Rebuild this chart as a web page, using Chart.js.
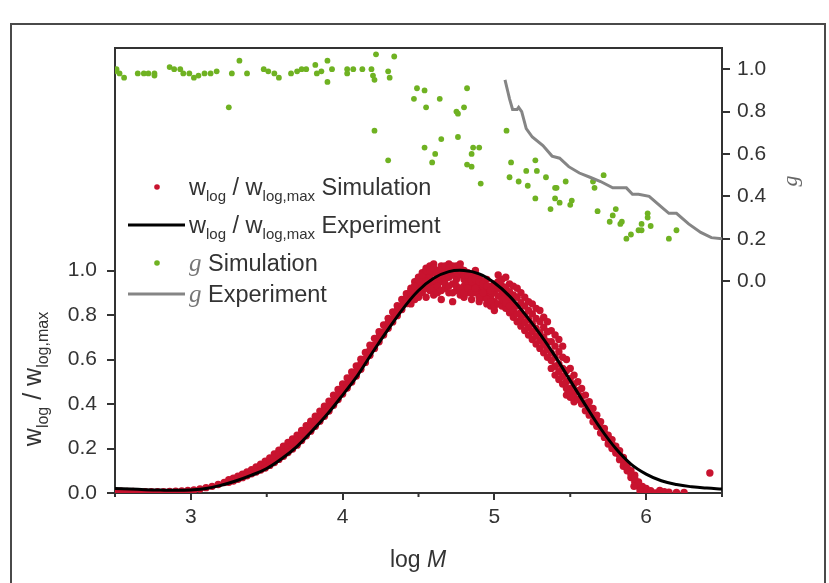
<!DOCTYPE html>
<html>
<head>
<meta charset="utf-8">
<script src="https://cdn.jsdelivr.net/npm/chart.js@4.4.1/dist/chart.umd.min.js"></script>
<style>
  html, body { margin: 0; padding: 0; background: #fff; overflow: hidden; }
  #wrap { position: relative; width: 829px; height: 583px; }
  #frame { position: absolute; left: 10px; top: 23px; width: 812px; height: 600px; border: 2px solid #4a4a4a; }
  #c { position: absolute; left: 0; top: 0; }
</style>
</head>
<body>
<div id="wrap">
  <div id="frame"></div>
  <canvas id="c" width="829" height="583"></canvas>
</div>
<script>
// x ticks (log M) and y ticks shown on both axes
const xTicks = [3, 4, 5, 6];
const xMinorTicks = [2.5, 3.5, 4.5, 5.5, 6.5];
const yTicks = [0, 0.2, 0.4, 0.6, 0.8, 1.0];

// w_log / w_log,max experiment (black curve)
const expX = [2.5, 2.6, 2.7, 2.8, 2.9, 3.0, 3.1, 3.2, 3.3, 3.4, 3.5, 3.6, 3.7, 3.8, 3.9, 4.0, 4.1, 4.2, 4.3, 4.4,
              4.5, 4.6, 4.7, 4.8, 4.9, 5.0, 5.1, 5.2, 5.3, 5.4, 5.5, 5.6, 5.7, 5.8, 5.9, 6.0, 6.1, 6.2, 6.3, 6.4, 6.5];
const expY = [0.02, 0.018, 0.015, 0.013, 0.012, 0.014, 0.02, 0.035, 0.055, 0.08, 0.11, 0.155, 0.21, 0.28, 0.355,
              0.44, 0.53, 0.635, 0.735, 0.83, 0.91, 0.965, 0.995, 1.0, 0.985, 0.945, 0.885, 0.805, 0.715, 0.615,
              0.505, 0.395, 0.29, 0.2, 0.13, 0.085, 0.055, 0.038, 0.028, 0.022, 0.018];

const simTailX = [2.50, 2.54, 2.58, 2.62, 2.66, 2.70, 2.74, 2.78, 2.82, 2.86, 2.90, 2.94, 2.98, 3.02, 3.06, 3.10, 3.14, 3.18, 3.22];
const simTailY = [0.008, 0.008, 0.007, 0.007, 0.006, 0.006, 0.006, 0.006, 0.006, 0.007, 0.008, 0.009, 0.011, 0.014, 0.018, 0.024, 0.03, 0.038, 0.047];

const simRiseX = [3.25, 3.28, 3.31, 3.34, 3.37, 3.40, 3.43, 3.46, 3.49, 3.52, 3.55, 3.58, 3.61, 3.64, 3.67, 3.70, 3.73, 3.76, 3.79, 3.82,
                  3.85, 3.88, 3.91, 3.94, 3.97, 4.00, 4.03, 4.06, 4.09, 4.12, 4.15, 4.18, 4.21, 4.24, 4.27, 4.30, 4.33, 4.36, 4.39, 4.42];
const simRiseA = [0.06, 0.067, 0.075, 0.085, 0.095, 0.105, 0.117, 0.13, 0.143, 0.158, 0.175, 0.192, 0.21, 0.227, 0.243, 0.26, 0.281, 0.302, 0.323, 0.345,
                  0.368, 0.39, 0.413, 0.439, 0.465, 0.49, 0.517, 0.544, 0.571, 0.601, 0.632, 0.664, 0.695, 0.725, 0.755, 0.785, 0.814, 0.842, 0.87, 0.896];
const simRiseB = [0.052, 0.06, 0.066, 0.078, 0.085, 0.1, 0.108, 0.12, 0.13, 0.146, 0.155, 0.172, 0.185, 0.205, 0.215, 0.238, 0.253, 0.28, 0.295, 0.322,
                  0.34, 0.368, 0.385, 0.416, 0.438, 0.468, 0.49, 0.522, 0.543, 0.58, 0.603, 0.642, 0.665, 0.703, 0.725, 0.765, 0.785, 0.82, 0.842, 0.875];
const simRiseC = [0.048, 0.054, 0.062, 0.069, 0.077, 0.086, 0.094, 0.103, 0.112, 0.124, 0.137, 0.151, 0.165, 0.182, 0.198, 0.215, 0.236, 0.257, 0.278, 0.3,
                  0.323, 0.345, 0.368, 0.394, 0.42, 0.445, 0.472, 0.499, 0.526, 0.556, 0.587, 0.619, 0.65, 0.68, 0.71, 0.74, 0.769, 0.797, 0.825, 0.851];

const simPeakX = [4.45, 4.475, 4.50, 4.525, 4.55, 4.575, 4.60, 4.625, 4.65, 4.675, 4.70, 4.725, 4.75, 4.775, 4.80, 4.825, 4.85, 4.875, 4.90, 4.925, 4.95, 4.975, 5.00];
const simPeakA = [0.88, 0.9, 0.93, 0.95, 0.97, 0.98, 0.99, 1.0, 1.02, 1.01, 1.03, 1.02, 1.01, 1.03, 1.0, 0.99, 0.98, 1.0, 0.97, 0.95, 0.96, 0.93, 0.94];
const simPeakB = [0.92, 0.95, 0.97, 0.99, 1.01, 1.02, 1.03, 0.94, 0.95, 0.96, 0.97, 0.94, 0.96, 0.98, 0.93, 0.95, 0.92, 0.94, 0.9, 0.91, 0.89, 0.88, 0.86];
const simPeakC = [0.85, 0.87, 0.88, 0.9, 0.88, 0.91, 0.89, 0.9, 0.87, 0.92, 0.9, 0.86, 0.91, 0.89, 0.88, 0.9, 0.87, 0.9, 0.86, 0.88, 0.85, 0.84, 0.82];
const simPeakD = [0.9, 0.93, 0.95, 0.97, 0.94, 0.95, 0.95, 0.97, 0.98, 0.99, 1.0, 0.98, 0.99, 1.0, 0.96, 0.97, 0.95, 0.97, 0.93, 0.93, 0.92, 0.9, 0.9];
const simPeakE = [0.87, 0.89, 0.91, 0.92, 0.92, 0.93, 0.92, 0.93, 0.91, 0.94, 0.93, 0.9, 0.93, 0.92, 0.9, 0.92, 0.9, 0.92, 0.88, 0.9, 0.87, 0.86, 0.84];
const simPeakF = [0.91, 0.93, 0.96, 0.98, 1.0, 1.0, 1.01, 0.99, 1.0, 1.02, 1.01, 1.0, 1.02, 1.01, 0.98, 0.98, 0.96, 0.96, 0.95, 0.94, 0.93, 0.91, 0.92];

const simFallX = [5.025, 5.05, 5.075, 5.10, 5.125, 5.15, 5.175, 5.20, 5.225, 5.25, 5.275, 5.30, 5.325, 5.35, 5.375, 5.40, 5.425, 5.45, 5.475, 5.50, 5.525];
const simFallA = [0.98, 0.96, 0.97, 0.94, 0.93, 0.92, 0.9, 0.88, 0.86, 0.85, 0.83, 0.82, 0.79, 0.77, 0.73, 0.71, 0.69, 0.66, 0.6, 0.56, 0.53];
const simFallB = [0.92, 0.9, 0.88, 0.87, 0.85, 0.84, 0.81, 0.8, 0.78, 0.76, 0.74, 0.72, 0.7, 0.68, 0.63, 0.61, 0.58, 0.56, 0.5, 0.47, 0.45];
const simFallC = [0.85, 0.84, 0.83, 0.81, 0.79, 0.77, 0.75, 0.73, 0.71, 0.69, 0.67, 0.65, 0.63, 0.61, 0.56, 0.53, 0.51, 0.49, 0.44, 0.43, 0.41];
const simFallD = [0.95, 0.93, 0.925, 0.905, 0.89, 0.88, 0.855, 0.84, 0.82, 0.805, 0.785, 0.77, 0.745, 0.725, 0.68, 0.66, 0.635, 0.61, 0.55, 0.515, 0.49];
const simFallE = [0.885, 0.87, 0.855, 0.84, 0.82, 0.805, 0.78, 0.765, 0.745, 0.725, 0.705, 0.685, 0.665, 0.645, 0.595, 0.57, 0.545, 0.525, 0.47, 0.45, 0.43];

const simEndX = [5.55, 5.575, 5.60, 5.625, 5.65, 5.675, 5.70, 5.725, 5.75, 5.775, 5.80, 5.825, 5.85, 5.875, 5.90, 5.925, 5.95, 5.975, 6.00];
const simEndA = [0.5, 0.47, 0.44, 0.41, 0.38, 0.35, 0.32, 0.29, 0.26, 0.24, 0.21, 0.19, 0.16, 0.13, 0.1, 0.08, 0.05, 0.03, 0.02];
const simEndB = [0.42, 0.4, 0.37, 0.35, 0.32, 0.3, 0.27, 0.25, 0.22, 0.2, 0.18, 0.15, 0.12, 0.1, 0.07, 0.05, 0.03, 0.015, 0.005];
const simEndC = [0.46, 0.435, 0.405, 0.38, 0.35, 0.325, 0.295, 0.27, 0.24, 0.22, 0.195, 0.17, 0.14, 0.115, 0.085, 0.065, 0.04, 0.022, 0.012];

const simBaseX = [5.92, 5.96, 6.03, 6.06, 6.09, 6.12, 6.15, 6.20, 6.25, 6.42];
const simBaseY = [0.03, 0.01, 0.01, 0.0, 0.012, 0.006, 0.004, 0.003, 0.002, 0.09];

// g simulation (green points)
const gSimX = [2.50, 2.51, 2.53, 2.56, 2.65, 2.69, 2.72, 2.76, 2.76, 2.86, 2.89, 2.93, 2.95, 2.99, 3.02, 3.05, 3.09, 3.13, 3.17, 3.27,
               3.32, 3.37, 3.25, 3.48, 3.51, 3.55, 3.58, 3.66, 3.70, 3.73, 3.76, 3.82, 3.83, 3.86, 3.90, 3.93, 3.90, 4.03, 4.03, 4.07,
               4.13, 4.19, 4.20, 4.21, 4.30, 4.31, 4.22, 4.34, 4.49, 4.54, 4.64, 4.47, 4.55, 4.82, 4.75, 4.80, 4.76, 4.21, 4.30, 4.54,
               4.61, 4.59, 4.65, 4.76, 4.86, 4.90, 4.85, 4.82, 4.85, 4.91, 5.08, 5.11, 5.10, 5.16, 5.22, 5.21, 5.27, 5.28, 5.34, 5.27,
               5.40, 5.41, 5.40, 5.43, 5.37, 5.47, 5.51, 5.50, 5.65, 5.66, 5.72, 5.68, 5.80, 5.78, 5.76, 5.84, 5.83, 6.01, 6.01, 5.97,
               5.97, 5.95, 6.03, 5.90, 5.87, 6.20, 6.15];
const gSimY = [0.99, 1.0, 0.98, 0.96, 0.98, 0.98, 0.98, 0.98, 0.97, 1.01, 1.0, 1.0, 0.98, 0.98, 0.96, 0.97, 0.98, 0.98, 0.99, 0.98,
               1.04, 0.98, 0.82, 1.0, 0.99, 0.98, 0.96, 0.98, 0.99, 1.0, 1.0, 1.02, 0.98, 0.99, 1.04, 1.0, 0.94, 1.0, 0.98, 1.0,
               1.0, 1.0, 0.97, 0.95, 0.99, 0.96, 1.07, 1.06, 0.91, 0.9, 0.86, 0.86, 0.82, 0.91, 0.8, 0.82, 0.79, 0.71, 0.57, 0.63,
               0.6, 0.56, 0.67, 0.68, 0.63, 0.63, 0.6, 0.55, 0.54, 0.46, 0.71, 0.56, 0.49, 0.47, 0.45, 0.52, 0.57, 0.52, 0.49, 0.39,
               0.44, 0.44, 0.39, 0.37, 0.34, 0.47, 0.38, 0.36, 0.47, 0.44, 0.5, 0.33, 0.34, 0.31, 0.28, 0.28, 0.27, 0.32, 0.3, 0.27,
               0.24, 0.24, 0.26, 0.22, 0.2, 0.24, 0.2];

// g experiment (gray line)
const gExpX = [5.07, 5.09, 5.10, 5.12, 5.15, 5.16, 5.18, 5.21, 5.25, 5.32, 5.38, 5.43, 5.49, 5.56, 5.63, 5.70, 5.78, 5.82, 5.87, 5.91,
               5.95, 6.02, 6.10, 6.15, 6.20, 6.28, 6.36, 6.43, 6.50];
const gExpY = [0.95, 0.89, 0.86, 0.81, 0.81, 0.82, 0.8, 0.72, 0.68, 0.64, 0.59, 0.58, 0.54, 0.51, 0.49, 0.47, 0.44, 0.44, 0.44, 0.41,
               0.41, 0.4, 0.35, 0.32, 0.32, 0.27, 0.23, 0.205, 0.2];

const RED = '#c8132f';
const GREEN = '#6fb222';
const GRAY = '#858585';
const INK = '#333333';
const SANS = '"Liberation Sans", Arial, sans-serif';
const SERIF = '"Liberation Serif", "Times New Roman", serif';

const zip = (xs, ys) => xs.map((x, i) => ({x, y: ys[i]}));

const simPoints = [].concat(
    zip(simTailX, simTailY),
    zip(simRiseX, simRiseA), zip(simRiseX, simRiseB), zip(simRiseX, simRiseC),
    zip(simPeakX, simPeakA), zip(simPeakX, simPeakB), zip(simPeakX, simPeakC),
    zip(simPeakX, simPeakD), zip(simPeakX, simPeakE), zip(simPeakX, simPeakF),
    zip(simFallX, simFallA), zip(simFallX, simFallB), zip(simFallX, simFallC),
    zip(simFallX, simFallD), zip(simFallX, simFallE),
    zip(simEndX, simEndA), zip(simEndX, simEndB), zip(simEndX, simEndC),
    zip(simBaseX, simBaseY)
);

// draw a run of text pieces (used for subscripts), returns end x
const drawRuns = (ctx, x, y, runs) => {
    for (const r of runs) {
        ctx.font = r.font;
        ctx.fillStyle = r.color || INK;
        ctx.fillText(r.t, x, y + (r.dy || 0));
        x += ctx.measureText(r.t).width;
    }
    return x;
};
const runsWidth = (ctx, runs) => runs.reduce((w, r) => {
    ctx.font = r.font;
    return w + ctx.measureText(r.t).width;
}, 0);

const wRuns = (main, sub, dy) => [
    {t: 'w', font: `${main}px ${SANS}`},
    {t: 'log', font: `${sub}px ${SANS}`, dy},
    {t: ' / ', font: `${main}px ${SANS}`},
    {t: 'w', font: `${main}px ${SANS}`},
    {t: 'log,max', font: `${sub}px ${SANS}`, dy},
];

const decor = {
    id: 'decor',
    afterDraw(chart) {
        const {ctx, chartArea: a, scales} = chart;
        ctx.save();
        // top frame line
        ctx.strokeStyle = INK;
        ctx.lineWidth = 2;
        ctx.beginPath();
        ctx.moveTo(a.left - 1, a.top);
        ctx.lineTo(a.right + 1, a.top);
        ctx.stroke();
        // minor x ticks
        ctx.beginPath();
        for (const v of xMinorTicks) {
            const px = scales.x.getPixelForValue(v);
            ctx.moveTo(px, a.bottom);
            ctx.lineTo(px, a.bottom + 4);
        }
        ctx.stroke();

        // legend
        ctx.textBaseline = 'alphabetic';
        const main = 23.5, sub = 15;
        const rows = [
            {y: 187, kind: 'dot', color: RED, runs: wRuns(main, sub, 6).concat([{t: ' Simulation', font: `${main}px ${SANS}`}])},
            {y: 225, kind: 'line', color: '#000', runs: wRuns(main, sub, 6).concat([{t: ' Experiment', font: `${main}px ${SANS}`}])},
            {y: 263, kind: 'dot', color: GREEN, runs: [{t: 'g', font: `italic 25px ${SERIF}`, color: '#777'}, {t: ' Simulation', font: `${main}px ${SANS}`}]},
            {y: 294, kind: 'line', color: GRAY, runs: [{t: 'g', font: `italic 25px ${SERIF}`, color: '#777'}, {t: ' Experiment', font: `${main}px ${SANS}`}]},
        ];
        for (const row of rows) {
            if (row.kind === 'dot') {
                ctx.fillStyle = row.color;
                ctx.beginPath();
                ctx.arc(157, row.y, 2.8, 0, Math.PI * 2);
                ctx.fill();
            } else {
                ctx.strokeStyle = row.color;
                ctx.lineWidth = 3;
                ctx.beginPath();
                ctx.moveTo(128, row.y);
                ctx.lineTo(185, row.y);
                ctx.stroke();
            }
            drawRuns(ctx, 189, row.y + 8, row.runs);
        }

        // left axis title, rotated
        const yt = wRuns(25, 16, 7);
        ctx.save();
        ctx.translate(41, 379);
        ctx.rotate(-Math.PI / 2);
        drawRuns(ctx, -runsWidth(ctx, yt) / 2, 0, yt);
        ctx.restore();

        // right axis title
        ctx.save();
        ctx.translate(797, 181);
        ctx.rotate(-Math.PI / 2);
        ctx.font = `italic 22px ${SERIF}`;
        ctx.fillStyle = '#666';
        ctx.textAlign = 'center';
        ctx.fillText('g', 0, 0);
        ctx.restore();

        // bottom axis title
        const xt = [{t: 'log ', font: `23px ${SANS}`}, {t: 'M', font: `italic 23px ${SANS}`}];
        drawRuns(ctx, 418 - runsWidth(ctx, xt) / 2, 567, xt);
        ctx.restore();
    }
};

const tickFont = {family: SANS, size: 21};

new Chart(document.getElementById('c'), {
    type: 'scatter',
    data: {
        datasets: [
            {
                label: 'w_log / w_log,max Experiment',
                type: 'line',
                data: zip(expX, expY),
                borderColor: '#000',
                borderWidth: 3,
                pointRadius: 0,
                tension: 0.4,
                yAxisID: 'y',
                order: 0,
            },
            {
                label: 'w_log / w_log,max Simulation',
                data: simPoints,
                backgroundColor: RED,
                borderWidth: 0,
                pointRadius: 3.7,
                yAxisID: 'y',
                order: 1,
            },
            {
                label: 'g Experiment',
                type: 'line',
                data: zip(gExpX, gExpY),
                borderColor: GRAY,
                borderWidth: 3,
                pointRadius: 0,
                tension: 0,
                yAxisID: 'y2',
                order: 2,
            },
            {
                label: 'g Simulation',
                data: zip(gSimX, gSimY),
                backgroundColor: GREEN,
                borderWidth: 0,
                pointRadius: 2.9,
                yAxisID: 'y2',
                order: 3,
            },
        ],
    },
    options: {
        responsive: false,
        animation: false,
        events: [],
        layout: {padding: {top: 48, left: 0, right: 0, bottom: 0}},
        plugins: {legend: {display: false}, tooltip: {enabled: false}},
        scales: {
            x: {
                type: 'linear',
                position: 'bottom',
                min: 2.5,
                max: 6.5,
                afterBuildTicks: s => { s.ticks = xTicks.map(v => ({value: v})); },
                afterFit: s => { s.height = 90; },
                grid: {drawOnChartArea: false, color: INK, lineWidth: 2, tickLength: 7},
                border: {display: true, color: INK, width: 2},
                ticks: {font: tickFont, color: INK, padding: 5, callback: v => String(v)},
            },
            y: {
                type: 'linear',
                position: 'left',
                min: 0,
                max: 2.0,
                afterBuildTicks: s => { s.ticks = yTicks.map(v => ({value: v})); },
                afterFit: s => { s.width = 115; },
                grid: {drawOnChartArea: false, color: INK, lineWidth: 2, tickLength: 8},
                border: {display: true, color: INK, width: 2},
                ticks: {font: tickFont, color: INK, padding: 10, callback: v => v.toFixed(1)},
            },
            y2: {
                type: 'linear',
                position: 'right',
                min: -1.0,
                max: 1.1,
                afterBuildTicks: s => { s.ticks = yTicks.map(v => ({value: v})); },
                afterFit: s => { s.width = 107; },
                grid: {drawOnChartArea: false, color: INK, lineWidth: 2, tickLength: 8},
                border: {display: true, color: INK, width: 2},
                ticks: {font: tickFont, color: INK, padding: 7, callback: v => v.toFixed(1)},
            },
        },
    },
    plugins: [decor],
});
</script>
</body>
</html>
